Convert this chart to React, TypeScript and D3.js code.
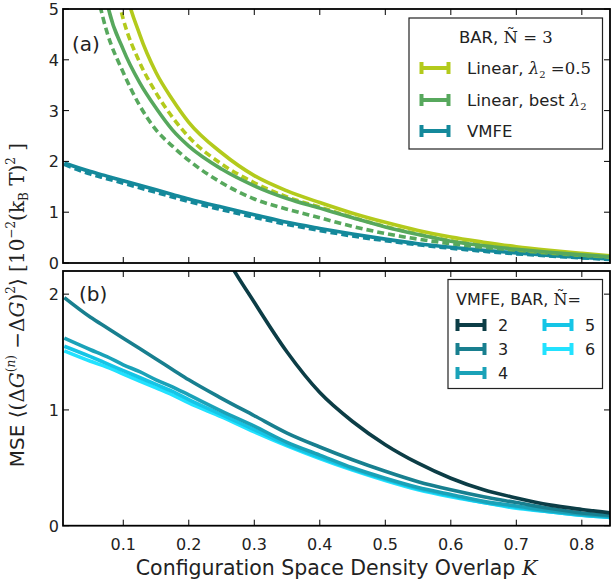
import React from 'react';
import * as d3 from 'd3';

// K grid shared by both panels
const kGrid = [0.01, 0.05, 0.075, 0.1, 0.125, 0.15, 0.175, 0.2, 0.25, 0.3, 0.35, 0.4, 0.45, 0.5, 0.55, 0.6, 0.65, 0.7, 0.75, 0.8, 0.845];

// Panel (a): BAR, N~=3
const linHalfSolid = [null, null, 8.0, 5.6, 4.5, 3.75, 3.22, 2.77, 2.17, 1.72, 1.42, 1.19, 0.98, 0.8, 0.64, 0.51, 0.41, 0.32, 0.25, 0.19, 0.14];
const linHalfDash = [null, 9.0, 6.3, 4.8, 3.95, 3.35, 2.87, 2.48, 1.95, 1.58, 1.3, 1.1, 0.9, 0.72, 0.57, 0.44, 0.35, 0.27, 0.21, 0.16, 0.12];
const linBestSolid = [null, 7.5, 5.15, 4.2, 3.55, 3.05, 2.62, 2.3, 1.85, 1.52, 1.27, 1.08, 0.89, 0.71, 0.56, 0.43, 0.34, 0.27, 0.21, 0.16, 0.12];
const linBestDash = [null, 5.9, 4.55, 3.75, 3.1, 2.62, 2.3, 2.02, 1.58, 1.26, 1.06, 0.89, 0.72, 0.58, 0.47, 0.38, 0.31, 0.25, 0.19, 0.15, 0.11];
const vmfeSolid = [1.97, 1.8, 1.71, 1.62, 1.53, 1.44, 1.35, 1.26, 1.1, 0.95, 0.8, 0.68, 0.57, 0.47, 0.38, 0.31, 0.25, 0.2, 0.15, 0.11, 0.08];
const vmfeDash = [1.94, 1.75, 1.66, 1.57, 1.48, 1.39, 1.3, 1.21, 1.05, 0.9, 0.76, 0.64, 0.53, 0.44, 0.36, 0.29, 0.23, 0.18, 0.14, 0.1, 0.07];

// Panel (b): VMFE, BAR, N~ = 2..6
const vmfeN2 = [null, null, null, null, null, null, null, 3.1, 2.4, 1.93, 1.5, 1.15, 0.9, 0.7, 0.54, 0.41, 0.31, 0.24, 0.18, 0.14, 0.11];
const vmfeN3 = [1.97, 1.8, 1.71, 1.62, 1.53, 1.44, 1.35, 1.26, 1.1, 0.95, 0.8, 0.68, 0.57, 0.47, 0.38, 0.31, 0.25, 0.2, 0.15, 0.11, 0.09];
const vmfeN4 = [1.62, 1.52, 1.46, 1.39, 1.33, 1.26, 1.2, 1.13, 0.99, 0.86, 0.72, 0.61, 0.5, 0.41, 0.33, 0.27, 0.21, 0.17, 0.13, 0.1, 0.08];
const vmfeN5 = [1.55, 1.46, 1.4, 1.34, 1.28, 1.22, 1.16, 1.09, 0.96, 0.83, 0.7, 0.59, 0.49, 0.4, 0.32, 0.26, 0.2, 0.16, 0.12, 0.09, 0.07];
const vmfeN6 = [1.51, 1.42, 1.37, 1.31, 1.25, 1.19, 1.13, 1.06, 0.94, 0.81, 0.69, 0.58, 0.48, 0.39, 0.31, 0.25, 0.2, 0.15, 0.12, 0.09, 0.07];

const xTicks = [0.1, 0.2, 0.3, 0.4, 0.5, 0.6, 0.7, 0.8];
const yTicksA = [0, 1, 2, 3, 4, 5];
const yTicksB = [0, 1, 2];
const legendBLabels = ['2', '3', '4', '5', '6'];

const C_YEL = '#b3ca1c';
const C_GRN = '#57a85d';
const C_TEAL = '#14899b';
const C_N = ['#0c3d46', '#187f8f', '#1aa2b8', '#15c5e6', '#22e2ff'];

const L = 63, R = 610;
const A_TOP = 9, A_BOT = 263;
const B_TOP = 271, B_BOT = 525.7;
const SANS = 'DejaVu Sans';
const SERIF = 'DejaVu Serif';

const x = d3.scaleLinear().domain([0.008, 0.843]).range([L, R]);
const yA = d3.scaleLinear().domain([0, 5]).range([A_BOT, A_TOP]);
const yB = d3.scaleLinear().domain([0, 2.2]).range([B_BOT, B_TOP]);

function path(vals: (number | null)[], y: d3.ScaleLinear<number, number>) {
  const pts = kGrid.map((k, i) => [k, vals[i]] as [number, number | null]);
  const gen = d3.line<[number, number | null]>()
    .defined(d => d[1] !== null)
    .x(d => x(d[0]))
    .y(d => y(d[1] as number))
    .curve(d3.curveMonotoneX);
  return gen(pts) || '';
}

function Frame({ top, bot, y, ticks, showX }: any) {
  const tl = 6;
  return (
    <g>
      {xTicks.map(t => (
        <g key={'x' + t}>
          <line x1={x(t)} x2={x(t)} y1={bot} y2={bot - tl} stroke="#000" strokeWidth={1} />
          <line x1={x(t)} x2={x(t)} y1={top} y2={top + tl} stroke="#000" strokeWidth={1} />
          {showX && (
            <text x={x(t)} y={bot + 24} textAnchor="middle" fontFamily={SANS} fontSize={16} fill="#222">{t}</text>
          )}
        </g>
      ))}
      {ticks.map((t: number) => (
        <g key={'y' + t}>
          <line x1={L} x2={L + tl} y1={y(t)} y2={y(t)} stroke="#000" strokeWidth={1} />
          <line x1={R} x2={R - tl} y1={y(t)} y2={y(t)} stroke="#000" strokeWidth={1} />
          <text x={L - 4} y={y(t) + 6} textAnchor="end" fontFamily={SANS} fontSize={16} fill="#222">{t}</text>
        </g>
      ))}
      <rect x={L} y={top} width={R - L} height={bot - top} fill="none" stroke="#000" strokeWidth={1.8} />
    </g>
  );
}

function Handle({ cx, cy, color }: any) {
  const w = 15, h = 6;
  return (
    <g stroke={color} strokeWidth={4}>
      <line x1={cx - w} x2={cx + w} y1={cy} y2={cy} />
      <line x1={cx - w + 1.5} x2={cx - w + 1.5} y1={cy - h} y2={cy + h} />
      <line x1={cx + w - 1.5} x2={cx + w - 1.5} y1={cy - h} y2={cy + h} />
    </g>
  );
}

export default function App() {
  const lw = 3.6;
  const dash = '7,4';
  return (
    <svg width={612} height={581} style={{ position: 'absolute', left: 0, top: 0, background: '#fff' }}>
      <defs>
        <clipPath id="ca"><rect x={L} y={A_TOP} width={R - L} height={A_BOT - A_TOP} /></clipPath>
        <clipPath id="cb"><rect x={L} y={B_TOP} width={R - L} height={B_BOT - B_TOP} /></clipPath>
      </defs>
      {/* Panel (a) */}
      <g clipPath="url(#ca)" fill="none" strokeWidth={lw} strokeLinejoin="round">
        <path d={path(vmfeDash, yA)} stroke={C_TEAL} strokeDasharray={dash} />
        <path d={path(vmfeSolid, yA)} stroke={C_TEAL} />
        <path d={path(linBestDash, yA)} stroke={C_GRN} strokeDasharray={dash} />
        <path d={path(linHalfDash, yA)} stroke={C_YEL} strokeDasharray={dash} />
        <path d={path(linHalfSolid, yA)} stroke={C_YEL} />
        <path d={path(linBestSolid, yA)} stroke={C_GRN} />
      </g>
      <Frame top={A_TOP} bot={A_BOT} y={yA} ticks={yTicksA} showX={false} />
      <text x={72} y={51} fontFamily={SANS} fontSize={20} fill="#222">(a)</text>
      {/* Legend (a) */}
      <g>
        <rect x={409} y={18} width={193.5} height={131} fill="#fff" stroke="#222" strokeWidth={1.2} />
        <text x={459} y={43} fontFamily={SANS} fontSize={16.5} fill="#222">
          BAR, <tspan fontFamily={SERIF}>Ñ</tspan><tspan fontFamily={SERIF}> = 3</tspan>
        </text>
        <Handle cx={435} cy={68} color={C_YEL} />
        <text x={467} y={74} fontFamily={SANS} fontSize={16.5} fill="#222">
          Linear, <tspan fontFamily={SERIF} fontStyle="italic">λ</tspan><tspan fontFamily={SERIF} fontSize={10} dy={4}>2</tspan><tspan fontFamily={SERIF} dy={-4}> =0.5</tspan>
        </text>
        <Handle cx={435} cy={100} color={C_GRN} />
        <text x={467} y={106} fontFamily={SANS} fontSize={16.5} fill="#222">
          Linear, best <tspan fontFamily={SERIF} fontStyle="italic">λ</tspan><tspan fontFamily={SERIF} fontSize={10} dy={4}>2</tspan>
        </text>
        <Handle cx={435} cy={131} color={C_TEAL} />
        <text x={467} y={137} fontFamily={SANS} fontSize={16.5} fill="#222">VMFE</text>
      </g>

      {/* Panel (b) */}
      <g clipPath="url(#cb)" fill="none" strokeWidth={lw} strokeLinejoin="round">
        <path d={path(vmfeN6, yB)} stroke={C_N[4]} />
        <path d={path(vmfeN5, yB)} stroke={C_N[3]} />
        <path d={path(vmfeN4, yB)} stroke={C_N[2]} />
        <path d={path(vmfeN3, yB)} stroke={C_N[1]} />
        <path d={path(vmfeN2, yB)} stroke={C_N[0]} />
      </g>
      <Frame top={B_TOP} bot={B_BOT} y={yB} ticks={yTicksB} showX={true} />
      <text x={79} y={301} fontFamily={SANS} fontSize={20} fill="#222">(b)</text>
      {/* Legend (b) */}
      <g>
        <rect x={448} y={279.5} width={154.5} height={109} fill="#fff" stroke="#222" strokeWidth={1.2} />
        <text x={456} y={305} fontFamily={SANS} fontSize={16} fill="#222">
          VMFE, BAR, <tspan fontFamily={SERIF}>Ñ</tspan><tspan fontFamily={SERIF}>=</tspan>
        </text>
        {legendBLabels.map((lab, i) => {
          const col = i < 3 ? 0 : 1;
          const row = i < 3 ? i : i - 3;
          const hx = col === 0 ? 471 : 558;
          const cy = 325 + row * 24;
          return (
            <g key={lab}>
              <Handle cx={hx} cy={cy} color={C_N[i]} />
              <text x={hx + 27} y={cy + 6} fontFamily={SANS} fontSize={16} fill="#222">{lab}</text>
            </g>
          );
        })}
      </g>

      {/* Axis labels */}
      <text x={(L + R) / 2} y={575} textAnchor="middle" fontFamily={SANS} fontSize={20.5} fill="#222">
        Configuration Space Density Overlap <tspan fontFamily={SERIF} fontStyle="italic">K</tspan>
      </text>
      <text transform="translate(24,305) rotate(-90)" textAnchor="middle" fontFamily={SANS} fontSize={20} fill="#222">
        MSE <tspan fontFamily={SERIF}>⟨(Δ</tspan><tspan fontFamily={SERIF} fontStyle="italic">G</tspan><tspan fontFamily={SERIF} fontSize={12} dy={-9}>(</tspan><tspan fontFamily={SERIF} fontStyle="italic" fontSize={12}>n</tspan><tspan fontFamily={SERIF} fontSize={12}>)</tspan><tspan fontFamily={SERIF} dy={9}> −Δ</tspan><tspan fontFamily={SERIF} fontStyle="italic">G</tspan><tspan fontFamily={SERIF}>)</tspan><tspan fontFamily={SERIF} fontSize={12} dy={-9}>2</tspan><tspan fontFamily={SERIF} dy={9}>⟩  [10</tspan><tspan fontFamily={SERIF} fontSize={12} dy={-9}>−2</tspan><tspan fontFamily={SERIF} dy={9}>(k</tspan><tspan fontFamily={SERIF} fontSize={12} dy={4}>B</tspan><tspan fontFamily={SERIF} dy={-4}> T)</tspan><tspan fontFamily={SERIF} fontSize={12} dy={-9}>2</tspan><tspan fontFamily={SERIF} dy={9}> ]</tspan>
      </text>
    </svg>
  );
}
